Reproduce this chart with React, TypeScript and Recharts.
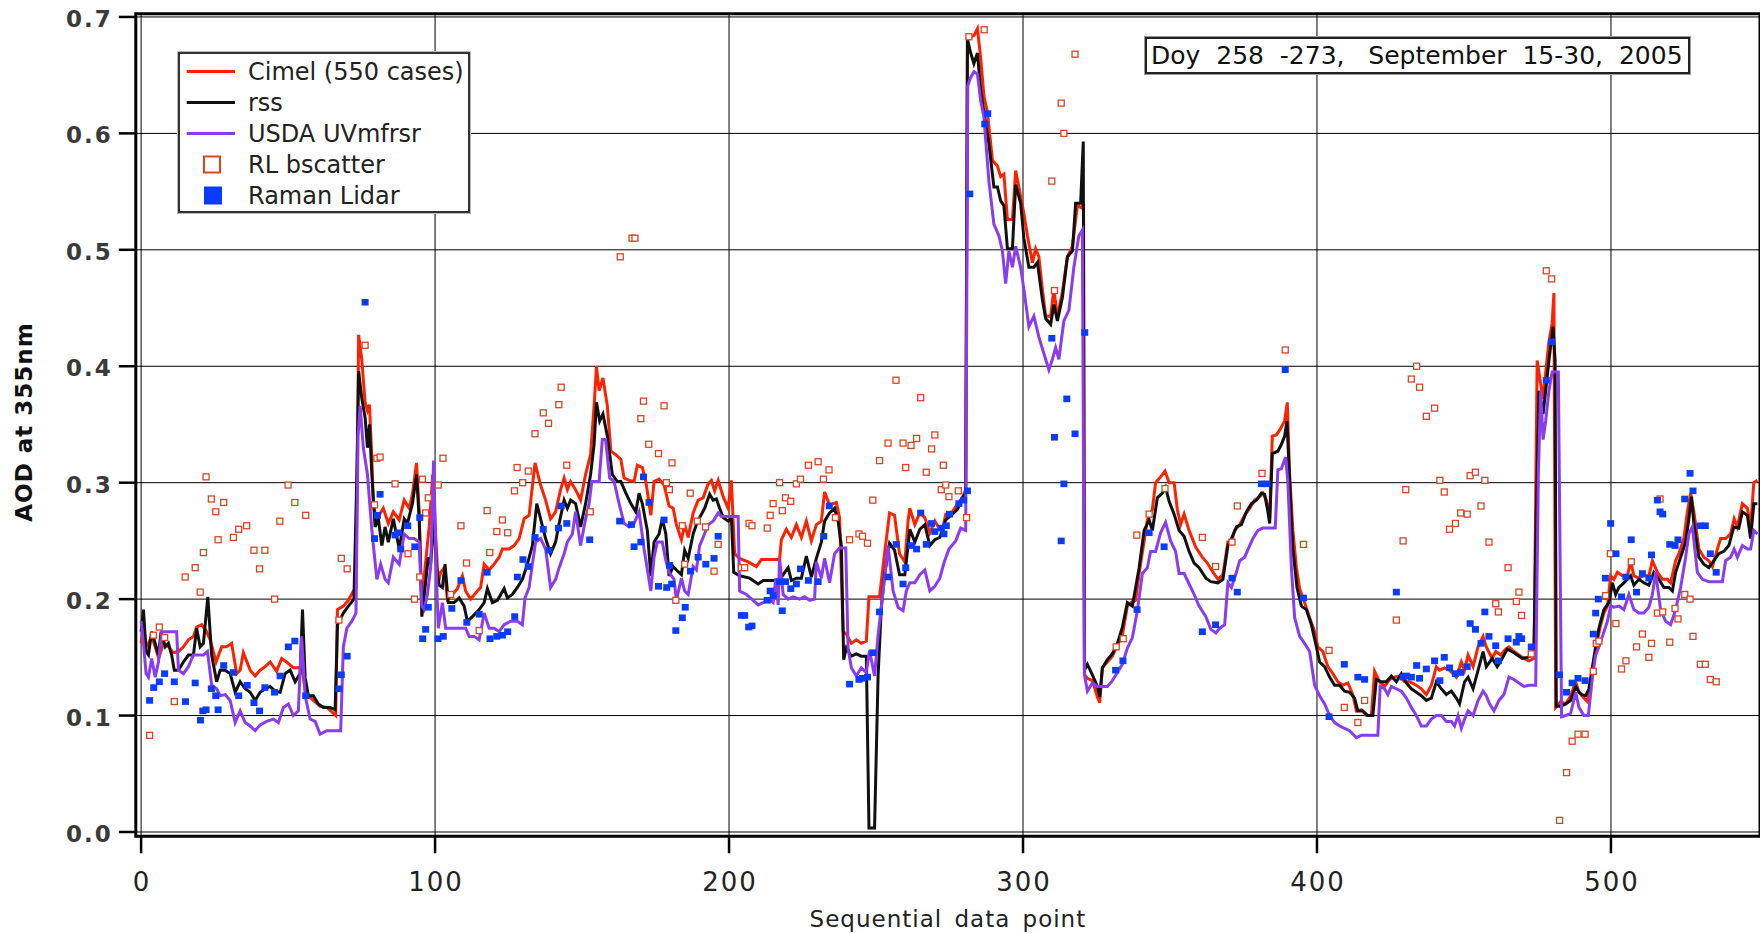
import React from "react";
import {
  CartesianGrid,
  ComposedChart,
  Legend,
  Line,
  ReferenceArea,
  Scatter,
  XAxis,
  YAxis,
} from "recharts";

const FONT = "'DejaVu Sans', Verdana, sans-serif";

const xTicks = [0, 100, 200, 300, 400, 500];
const yTicks = [0, 0.1, 0.2, 0.3, 0.4, 0.5, 0.6, 0.7];

// Cimel (550 cases), [sequential point, AOD]
const cimel: [number, number][] = [
  [0,0.162],[0.8,0.178],[1.7,0.159],[2.5,0.162],[3.6,0.168],[4.8,0.159],[6,0.149],[7.6,0.162],[9.3,0.159],[11,0.154],[12.7,0.155],[14.4,0.159],[16.1,0.165],[17.8,0.168],[18.9,0.176],[20.6,0.178],[22.1,0.173],[23.5,0.165],[25.5,0.146],[27.4,0.159],[29.1,0.159],[30.8,0.162],[32.5,0.136],[33.7,0.139],[34.8,0.154],[37.1,0.139],[38.8,0.134],[40.5,0.139],[42.2,0.142],[43.9,0.146],[46.1,0.138],[47.8,0.149],[49.5,0.146],[51.8,0.141],[53.5,0.141],[54.6,0.142],[55.8,0.123],[56.9,0.117],[58.6,0.113],[60.9,0.108],[63.2,0.107],[65.4,0.102],[66.2,0.1],[66.8,0.191],[68.8,0.194],[70.5,0.199],[72.2,0.207],[73.1,0.21],[74,0.427],[75.1,0.405],[76.2,0.369],[77,0.362],[77.7,0.367],[78.5,0.32],[79,0.28],[80.2,0.269],[82.4,0.278],[84.1,0.265],[85.8,0.275],
  [87.8,0.268],[89.5,0.285],[91.2,0.278],[92.3,0.29],[93.7,0.317],[94.6,0.275],[95.5,0.194],[96.6,0.227],[98,0.262],[99.2,0.307],[100.2,0.255],[101.1,0.214],[101.9,0.223],[103.1,0.227],[104.2,0.2],[105.9,0.204],[107.6,0.209],[109.3,0.22],[110.4,0.207],[112.1,0.2],[114.4,0.207],[115.5,0.21],[116.7,0.23],[118.4,0.225],[120.1,0.23],[121.8,0.236],[122.9,0.243],[125.2,0.243],[126.9,0.246],[128.6,0.252],[130.3,0.269],[132,0.272],[134,0.317],[135.9,0.298],[137.6,0.285],[139.3,0.269],[141,0.275],[142.7,0.294],[143.9,0.304],[145,0.294],[146.1,0.301],[147.8,0.294],[149.5,0.285],[151.2,0.307],[152.9,0.324],[154.1,0.366],[154.9,0.4],[155.8,0.379],[157.1,0.39],[158.6,0.366],[159.8,0.327],[161.5,0.324],[163.2,0.32],[164.3,0.304],[166,0.302],[167.7,0.301],[168.8,0.315],[170.5,0.313],[171.7,0.301],[173.4,0.272],[174.5,0.301],[176.2,0.303],[177.9,0.298],[179.6,0.28],
  [181,0.278],[182.1,0.264],[183.8,0.251],[184.9,0.264],[186.1,0.253],[187.8,0.274],[189.5,0.285],[191.2,0.287],[192.9,0.299],[194,0.302],[195.1,0.293],[196.3,0.302],[198,0.288],[199.7,0.278],[200.8,0.302],[201.9,0.239],[203.6,0.235],[206.5,0.232],[209.3,0.228],[211,0.234],[213.8,0.234],[217.2,0.234],[217.8,0.251],[219.5,0.26],[221.2,0.253],[222.9,0.264],[224.6,0.253],[226.3,0.267],[228,0.25],[229.7,0.264],[231.4,0.267],[232.5,0.292],[234.2,0.281],[236.5,0.283],[237.6,0.27],[238.8,0.172],[239.9,0.17],[241.6,0.162],[243.3,0.165],[245,0.162],[246.7,0.164],[247.6,0.202],[249.5,0.202],[251.2,0.202],[252.9,0.239],[254.6,0.274],[256.3,0.272],[258,0.239],[259.8,0.232],[260.9,0.267],[261.5,0.278],[263.2,0.264],[264.9,0.274],[266.6,0.27],[268.3,0.257],[270,0.267],[271.7,0.26],
  [272.6,0.259],[273.7,0.273],[276,0.275],[277.7,0.282],[279.4,0.287],[280.5,0.294],[281.1,0.683],[282.2,0.683],[283.3,0.684],[284.5,0.69],[285.6,0.665],[286.7,0.632],[287.9,0.618],[289.6,0.577],[291.3,0.572],[292.4,0.563],[293.5,0.565],[294.7,0.526],[296.4,0.526],[297.5,0.568],[298.6,0.554],[300.3,0.531],[301.5,0.512],[303.2,0.489],[304.3,0.501],[305.4,0.494],[306.6,0.466],[307.7,0.443],[309.4,0.443],[310.5,0.466],[311.7,0.443],[313.4,0.464],[315.1,0.494],[316.8,0.503],[318.5,0.538],[320,0.536],[320.6,0.54],[320.9,0.135],[321.9,0.132],[323.6,0.13],[325.3,0.116],[326.1,0.111],[327,0.141],[328.7,0.146],[330.4,0.151],[332.1,0.16],[333.8,0.169],[335.5,0.194],[336.6,0.197],[338.3,0.199],[339.5,0.222],[341.2,0.25],[342.3,0.268],[344,0.277],[345.1,0.3],[346.8,0.305],[348.3,0.31],[349.7,0.3],[351.4,0.3],[352.5,0.277],[353.6,0.264],[354.8,0.273],[356.5,0.259],[358.7,0.245],[361,0.236],[362.7,0.231],[364.4,0.224],
  [366.3,0.217],[368,0.221],[369.7,0.249],[370.9,0.249],[372,0.259],[373.7,0.264],[375.4,0.272],[377.1,0.278],[378.8,0.285],[380.5,0.288],[381.6,0.291],[382.8,0.285],[383.9,0.269],[384.8,0.34],[386.2,0.341],[387.5,0.346],[389,0.353],[389.9,0.369],[390.7,0.307],[391.8,0.259],[393,0.227],[394.1,0.209],[395.8,0.197],[397.5,0.184],[399.2,0.172],[400.3,0.159],[402,0.155],[403.7,0.142],[405.4,0.136],[407.1,0.129],[408.8,0.126],[410.5,0.128],[412.2,0.118],[413.4,0.104],[415.1,0.105],[416.8,0.1],[418.5,0.1],[419.6,0.138],[421.3,0.129],[423,0.125],[424.7,0.131],[426.4,0.133],[428.1,0.134],[429.8,0.129],[431.5,0.129],[433.8,0.126],[435.5,0.123],[437.2,0.118],[438.9,0.126],[440.6,0.142],[441.7,0.139],[443.4,0.141],[445.1,0.139],[447.4,0.133],[449.1,0.146],[450.2,0.139],[451.4,0.152],[453.1,0.142],[454.8,0.159],[456.5,0.168],[457.6,0.159],
  [459.6,0.149],[460.8,0.155],[462.5,0.152],[464.2,0.157],[465.3,0.159],[467,0.155],[468.7,0.152],[470.4,0.149],[472.1,0.147],[473.8,0.149],[474.9,0.405],[476.1,0.385],[476.9,0.372],[477.8,0.395],[478.9,0.421],[480,0.437],[480.6,0.463],[481.2,0.107],[482.9,0.112],[484.6,0.11],[486.3,0.117],[488,0.129],[489.1,0.12],[490.8,0.115],[492,0.112],[493.1,0.129],[494.2,0.146],[495.4,0.165],[496.5,0.178],[497.6,0.188],[498.8,0.194],[499.9,0.22],[501,0.217],[502.2,0.223],[503.9,0.22],[505.6,0.22],[506.7,0.233],[507.8,0.22],[509.5,0.218],[511.2,0.22],[512.9,0.22],[514.1,0.233],[515.8,0.223],[517.5,0.217],[519.2,0.217],[520.3,0.214],[522,0.233],[523.1,0.239],[524.8,0.252],[526,0.275],[527.1,0.291],[528.2,0.275],[529.9,0.243],[531.6,0.236],[533.3,0.233],[534.5,0.228],[536.2,0.243],[537.3,0.252],[539,0.252],[540.7,0.256],[541.9,0.269],[543,0.262],[544.7,0.282],[546.4,0.278],[547.5,0.262],[548.6,0.3],[549.8,0.302],
];

// rss
const rss: [number, number][] = [
  [0,0.172],[0.8,0.191],[1.7,0.155],[2.5,0.152],[3.6,0.172],[4.8,0.162],[5.9,0.152],[6.8,0.172],[8.2,0.159],[9.3,0.162],[10.4,0.152],[11.3,0.139],[12.7,0.139],[14.4,0.146],[16.1,0.152],[17.8,0.152],[18.9,0.175],[20.1,0.159],[21.2,0.162],[22.7,0.202],[24,0.152],[25.7,0.129],[26.9,0.139],[28.6,0.139],[30.3,0.136],[32,0.12],[33.7,0.129],[35.4,0.123],[37.1,0.12],[38.8,0.113],[40.5,0.12],[42.2,0.123],[43.9,0.125],[45.6,0.121],[47.3,0.12],[49,0.136],[50.7,0.139],[52.4,0.129],[54.1,0.136],[54.9,0.191],[55.8,0.133],[56.9,0.117],[58.6,0.117],[60.3,0.11],[62,0.107],[64.3,0.107],[66,0.105],[66.8,0.178],[68.8,0.188],[70.5,0.194],[72.4,0.2],[73.4,0.307],[74,0.396],[75.1,0.372],[76.2,0.356],[77,0.33],[77.7,0.35],[78.5,0.307],[79.6,0.262],[80.7,0.269],[81.9,0.246],[83,0.262],[84.1,0.249],[85.8,0.269],
  [87.8,0.243],[89.5,0.269],[90.6,0.265],[92.3,0.282],[93.7,0.307],[94.6,0.269],[95.5,0.185],[96.6,0.21],[97.7,0.236],[98.5,0.23],[99.7,0.269],[100.5,0.227],[101.4,0.212],[102.5,0.21],[103.4,0.23],[104.5,0.197],[106.5,0.197],[108.2,0.201],[109.9,0.194],[111,0.181],[112.7,0.185],[115,0.191],[116.7,0.197],[117.8,0.209],[119.5,0.197],[121.2,0.199],[123.5,0.209],[124.6,0.201],[126.3,0.204],[128,0.21],[129.7,0.217],[131.4,0.23],[133.1,0.246],[134.6,0.282],[135.9,0.269],[137.6,0.252],[139.3,0.239],[141,0.249],[142.2,0.265],[143.9,0.285],[145,0.278],[146.1,0.285],[147.8,0.282],[149.5,0.262],[151.2,0.282],[152.9,0.307],[154.1,0.333],[154.9,0.369],[156,0.353],[157.1,0.359],[158.6,0.34],[160.3,0.307],[162,0.301],[163.2,0.301],[164.9,0.291],[166.6,0.282],[168.3,0.275],[169.4,0.291],[170.5,0.282],[172.2,0.259],[173.4,0.22],[174.5,0.249],[176.2,0.256],[177.3,0.269],[178.5,0.256],[179.6,0.22],
  [181,0.228],[182.1,0.225],[183.8,0.221],[184.9,0.242],[186.1,0.235],[187.8,0.256],[188.9,0.264],[190,0.27],[191.7,0.278],[193.4,0.29],[194.6,0.285],[195.7,0.286],[196.8,0.278],[198,0.27],[199.7,0.267],[200.8,0.27],[201.6,0.223],[203.6,0.22],[207,0.218],[209.9,0.213],[211.6,0.216],[213.8,0.216],[217.2,0.216],[218.4,0.221],[220.1,0.227],[221.2,0.216],[222.9,0.218],[224.6,0.218],[226.3,0.237],[228,0.219],[229.7,0.235],[231.4,0.249],[232.5,0.267],[234.2,0.274],[235.9,0.278],[237.1,0.267],[238.2,0.246],[239,0.148],[239.9,0.158],[241.6,0.151],[243.3,0.153],[245,0.151],[246.7,0.151],[247.6,0.0035],[249.5,0.0035],[250.7,0.134],[251.8,0.193],[252.9,0.221],[254.6,0.248],[256.3,0.242],[258,0.221],[259.8,0.221],[261.5,0.26],[263.2,0.249],[264.9,0.26],[266.6,0.264],[268.3,0.246],[270,0.251],[271.7,0.253],
  [273.7,0.268],[276,0.273],[277.7,0.277],[279.4,0.287],[280.5,0.291],[281.1,0.681],[282.2,0.669],[283.3,0.66],[284.5,0.669],[285.6,0.637],[286.7,0.618],[288.4,0.591],[290.1,0.554],[291.3,0.554],[292.4,0.542],[293.5,0.538],[294.7,0.501],[296.4,0.501],[297.5,0.556],[299.2,0.54],[300.3,0.51],[302,0.485],[303.7,0.485],[304.9,0.489],[306.6,0.457],[307.7,0.441],[309.4,0.436],[310.5,0.453],[311.7,0.439],[313.4,0.459],[315.1,0.494],[316.8,0.499],[317.9,0.54],[319.6,0.54],[320.5,0.593],[320.9,0.139],[321.9,0.144],[323.6,0.135],[325.3,0.125],[326.1,0.116],[327,0.141],[328.7,0.148],[330.4,0.153],[332.1,0.162],[333.8,0.176],[335.5,0.197],[337.2,0.194],[339.5,0.227],[341.2,0.259],[342.9,0.268],[344,0.259],[345.7,0.287],[347.4,0.291],[348.5,0.296],[349.7,0.284],[351.4,0.273],[353.1,0.259],[354.8,0.254],[356.5,0.241],[358.2,0.231],[359.9,0.227],[362.2,0.218],[363.9,0.215],
  [366.3,0.214],[368,0.217],[369.7,0.246],[370.9,0.252],[372.6,0.262],[374.3,0.264],[376,0.275],[377.7,0.282],[379.4,0.285],[381.1,0.291],[382.2,0.29],[383.3,0.275],[383.9,0.265],[384.8,0.325],[386.7,0.327],[387.9,0.333],[389,0.34],[389.8,0.353],[390.7,0.301],[391.8,0.243],[393.2,0.21],[394.7,0.194],[396.4,0.191],[398.1,0.178],[399.8,0.159],[400.9,0.146],[402.6,0.142],[404.3,0.133],[406,0.126],[407.7,0.126],[409.4,0.121],[411.1,0.12],[412.8,0.115],[413.9,0.104],[415.6,0.104],[417.3,0.1],[419,0.1],[420.2,0.131],[421.9,0.129],[423.6,0.129],[425.3,0.134],[427,0.129],[428.7,0.136],[430.4,0.128],[432.1,0.123],[433.8,0.12],[435.5,0.117],[437.2,0.113],[438.9,0.115],[440.6,0.129],[442.3,0.123],[444,0.118],[445.7,0.121],[447.4,0.115],[448.5,0.11],[450.2,0.129],[451.4,0.133],[453.1,0.123],[454.8,0.139],[456.5,0.155],[457.6,0.142],
  [459.6,0.149],[461.3,0.142],[463,0.149],[464.7,0.157],[466.4,0.155],[468.1,0.152],[469.8,0.149],[471.5,0.15],[473.8,0.152],[474.6,0.275],[475.5,0.379],[476.9,0.359],[477.8,0.379],[478.9,0.405],[480.3,0.434],[481,0.405],[481.4,0.108],[482.9,0.108],[484.6,0.11],[486.3,0.113],[488,0.125],[489.1,0.12],[490.2,0.118],[491.4,0.117],[492.5,0.123],[493.7,0.142],[494.8,0.159],[495.9,0.175],[497.6,0.191],[499.3,0.197],[500.5,0.214],[501.6,0.204],[502.7,0.21],[504.4,0.214],[505.6,0.217],[506.7,0.22],[507.8,0.212],[509.5,0.217],[511.2,0.214],[512.9,0.212],[514.6,0.223],[516.3,0.217],[518,0.21],[519.7,0.21],[520.9,0.207],[522,0.223],[523.7,0.236],[525.4,0.249],[526.5,0.269],[527.4,0.288],[528.2,0.265],[529.9,0.236],[531.6,0.23],[533.3,0.227],[535,0.233],[536.7,0.239],[538.4,0.241],[540.1,0.246],[541.8,0.262],[543.5,0.261],[544.7,0.275],[546.4,0.272],[547.5,0.252],[548.6,0.282],[549.8,0.282],
];

// USDA UVmfrsr
const usda: [number, number][] = [
  [0,0.181],[0.8,0.162],[1.7,0.136],[2.5,0.133],[3.6,0.149],[4.8,0.133],[5.9,0.146],[7,0.172],[12.1,0.172],[12.7,0.139],[14.4,0.136],[16.1,0.142],[17.8,0.152],[19.5,0.152],[21.2,0.152],[22.6,0.155],[24,0.126],[25.7,0.123],[26.9,0.117],[28.6,0.118],[30.3,0.113],[32,0.094],[33.7,0.104],[35.4,0.094],[37.1,0.091],[38.8,0.087],[40.5,0.092],[42.7,0.095],[45,0.097],[46.7,0.094],[48.4,0.107],[50.1,0.11],[51.8,0.1],[53.5,0.104],[54.6,0.168],[55.8,0.117],[57.5,0.097],[59.2,0.095],[60.9,0.084],[63.2,0.087],[65.4,0.087],[67.9,0.087],[68.8,0.159],[70,0.175],[71.7,0.181],[73.1,0.188],[73.8,0.34],[74.5,0.366],[75.6,0.33],[77,0.307],[78.5,0.259],[80.2,0.217],[81.5,0.23],[83,0.217],[84.1,0.214],[85.8,0.236],
  [87.8,0.23],[89.5,0.256],[91.2,0.252],[92.9,0.252],[94.6,0.249],[95.5,0.194],[96.3,0.191],[97.4,0.204],[98.5,0.227],[99.5,0.319],[100.5,0.217],[101.1,0.175],[102.5,0.197],[103.6,0.175],[104.8,0.175],[106.5,0.175],[108.7,0.175],[110.4,0.175],[111.6,0.168],[113.3,0.168],[115,0.165],[116.7,0.188],[118.4,0.175],[120.1,0.175],[121.8,0.172],[123.5,0.178],[125.7,0.181],[128,0.181],[129.7,0.178],[130.6,0.201],[132,0.21],[133.1,0.23],[134.2,0.249],[135.9,0.252],[137.6,0.243],[139.3,0.21],[141,0.217],[142.2,0.227],[143.9,0.239],[145,0.249],[146.7,0.256],[147.8,0.275],[149.5,0.246],[151.2,0.269],[152.4,0.282],[153.3,0.301],[155.8,0.301],[156.9,0.337],[158,0.337],[159.4,0.304],[160.9,0.301],[162.6,0.282],[164.3,0.265],[166,0.262],[167.7,0.265],[169.4,0.275],[171.1,0.243],[173.4,0.207],[174.5,0.236],[175.6,0.249],[177.3,0.249],[178.5,0.233],[179.6,0.223],[181.3,0.217],
  [182.1,0.199],[183.8,0.218],[184.9,0.207],[186.1,0.204],[187.8,0.228],[188.9,0.225],[190,0.246],[191.2,0.253],[192.9,0.264],[194.6,0.267],[196.3,0.274],[197.4,0.271],[198.5,0.271],[200.8,0.271],[203.1,0.271],[203.6,0.207],[205.9,0.204],[208.2,0.199],[209.9,0.195],[211.6,0.197],[213.3,0.2],[215,0.197],[215.9,0.218],[216.7,0.195],[217.2,0.235],[218.4,0.204],[220.1,0.2],[221.8,0.202],[224,0.2],[225.7,0.202],[227.4,0.199],[229.1,0.2],[229.7,0.232],[231.4,0.218],[232.5,0.235],[234.2,0.214],[235.9,0.239],[237.6,0.244],[239.7,0.244],[240.5,0.158],[241.6,0.141],[243.3,0.134],[245,0.141],[246.7,0.137],[247.8,0.156],[249.5,0.134],[250.7,0.169],[251.8,0.193],[252.9,0.218],[254.1,0.246],[255.8,0.207],[257.5,0.193],[259.2,0.19],[260.3,0.207],[261.5,0.214],[263.2,0.214],[264.9,0.221],[266.6,0.225],[268.3,0.207],[270,0.211],[271.7,0.218],
  [273.1,0.231],[274.8,0.243],[277.1,0.25],[278.8,0.261],[280.5,0.259],[281.2,0.641],[282.2,0.648],[283.3,0.653],[284.5,0.651],[285.6,0.628],[286.7,0.614],[288.4,0.559],[290.1,0.522],[291.8,0.512],[293,0.499],[294.1,0.471],[295.2,0.499],[296.4,0.485],[297.5,0.503],[299.2,0.485],[300.3,0.466],[302,0.434],[303.7,0.443],[305.4,0.425],[307.1,0.411],[308.8,0.397],[310,0.406],[311.1,0.416],[312.2,0.406],[313.9,0.439],[315.6,0.448],[317.3,0.485],[319,0.512],[320.2,0.517],[320.9,0.135],[321.9,0.121],[323.6,0.128],[325.3,0.125],[327,0.125],[328.7,0.125],[330.4,0.13],[332.1,0.137],[333.8,0.144],[335.5,0.158],[337.2,0.167],[338.9,0.19],[340.6,0.222],[342.3,0.227],[343.4,0.241],[345.1,0.241],[346.8,0.257],[348.5,0.266],[350.2,0.25],[351.9,0.241],[353.1,0.222],[354.8,0.222],[356.5,0.213],[358.2,0.204],[359.9,0.194],[362.2,0.185],[363.9,0.174],[365.6,0.171],
  [366.9,0.175],[368.6,0.178],[369.7,0.214],[370.9,0.21],[372.6,0.223],[373.7,0.233],[375.4,0.236],[377.1,0.246],[378.2,0.252],[379.9,0.259],[381.6,0.261],[383.3,0.261],[385.8,0.261],[386.7,0.311],[387.9,0.312],[389.3,0.322],[390.1,0.301],[391.3,0.227],[392.4,0.184],[394.1,0.168],[395.8,0.162],[397.5,0.155],[399.2,0.126],[400.9,0.117],[402.6,0.11],[404.3,0.1],[406,0.094],[407.7,0.091],[409.4,0.089],[411.1,0.087],[413.4,0.081],[415.1,0.083],[417.3,0.083],[420.7,0.083],[421.5,0.125],[423,0.123],[424.1,0.118],[425.3,0.125],[427,0.123],[428.7,0.121],[430.4,0.115],[432.1,0.107],[433.8,0.1],[435.5,0.091],[437.2,0.091],[438.9,0.097],[440.6,0.1],[442.3,0.1],[444,0.095],[445.7,0.095],[446.8,0.091],[448,0.1],[449.1,0.089],[450.2,0.097],[451.4,0.104],[453.1,0.1],[454.8,0.113],[456.5,0.121],[457.6,0.117],[458.7,0.11],
  [460.2,0.104],[461.9,0.113],[463.6,0.118],[465.3,0.133],[467,0.131],[468.7,0.128],[470.4,0.125],[472.1,0.126],[474.4,0.126],[475.3,0.307],[476.1,0.379],[476.9,0.337],[477.8,0.353],[478.9,0.379],[480,0.395],[482.1,0.395],[483.2,0.099],[484.6,0.1],[486.3,0.102],[488,0.12],[489.1,0.107],[490.8,0.1],[492.3,0.1],[493.7,0.133],[494.8,0.152],[495.9,0.159],[497.1,0.168],[498.8,0.181],[499.9,0.194],[501,0.193],[502.7,0.194],[504.4,0.191],[506.1,0.204],[507.8,0.191],[509.5,0.188],[511.2,0.188],[512.9,0.193],[514.1,0.204],[515.2,0.223],[516.9,0.191],[518.6,0.181],[520.3,0.178],[522,0.191],[523.7,0.21],[525.4,0.236],[526.5,0.256],[527.7,0.262],[529.4,0.223],[531.1,0.217],[533.3,0.215],[536.2,0.215],[537.9,0.215],[539,0.233],[540.7,0.236],[541.9,0.243],[543,0.236],[544.7,0.246],[546.4,0.243],[547.5,0.243],[548.6,0.259],[549.8,0.256],
];

// RL bscatter
const rlBscatter: [number, number][] = [
  [2.9,0.083],[4.2,0.169],[6.2,0.176],[8,0.167],[11.3,0.112],[15,0.219],[18.4,0.227],[20.1,0.206],[21.2,0.24],[22.1,0.305],[23.9,0.286],[25.4,0.275],[26.2,0.251],[28.1,0.283],[31.4,0.253],[33.2,0.26],[35.9,0.263],[38.4,0.242],[40.3,0.226],[42.1,0.242],[45.4,0.2],[47.2,0.267],[50,0.298],[52.3,0.283],[56,0.272],[67.3,0.182],[68.1,0.235],[70.1,0.226],[76.2,0.418],[79.4,0.281],[80.2,0.321],[81.3,0.322],[86.4,0.299],[90.8,0.239],[93,0.2],[94.8,0.219],[95.7,0.303],[96.8,0.274],[97.7,0.287],[101.1,0.298],[102.7,0.321],[105.3,0.204],[108.8,0.263],[110.7,0.231],[115,0.173],[117.7,0.276],[118.6,0.24],[121,0.258],[122.9,0.268],[124.7,0.257],[127,0.293],[127.9,0.313],[129.8,0.3],[131.7,0.31],[134,0.342],[136.8,0.36],[138.6,0.351],[142.1,0.367],[142.9,0.382],[144.8,0.315],[152.8,0.275],[163,0.494],[167,0.51],[168,0.51],[170,0.355],[170.9,0.37],[172.7,0.333],[176,0.325],[177.9,0.366],[178.7,0.3],[179.7,0.294],[180.6,0.317],[181.9,0.199],[184.1,0.263],[184.9,0.23],[186.8,0.291],[189.2,0.267],[192,0.262],[194.9,0.224],[196.3,0.247],[204.2,0.227],[205.3,0.227],[206.8,0.265],[207.8,0.263],[213,0.261],[214,0.272],[215,0.282],[217.2,0.3],[218.1,0.276],[219.2,0.287],[221,0.284],[222.9,0.299],[224.3,0.303],[227,0.315],[230.3,0.318],[232.1,0.303],[234,0.311],[236.2,0.27],[241,0.251],[244.2,0.256],[245.4,0.254],[247.1,0.248],[248.9,0.285],[251.2,0.319],[254.1,0.334],[256.8,0.388],[259.2,0.334],[260.1,0.313],[261.9,0.332],[263.8,0.338],[265.2,0.373],[267.1,0.309],[268.9,0.329],[270,0.341],[272.2,0.294],[272.9,0.315],[273.7,0.298],[274.8,0.288],[278,0.293],[280.8,0.27],[281.6,0.683],[286.8,0.689],[309.8,0.559],[310.7,0.465],[313,0.626],[313.9,0.6],[317.7,0.668],[331.7,0.159],[334.1,0.166],[338.7,0.255],[342.9,0.273],[348.3,0.295],[361,0.253],[365.5,0.228],[371.1,0.249],[372.9,0.28],[381.3,0.308],[389.2,0.414],[395.4,0.247],[404.1,0.156],[409.3,0.107],[413.9,0.094],[416.2,0.113],[427,0.182],[429.3,0.25],[430.2,0.294],[432.1,0.389],[433.9,0.4],[434.9,0.382],[437.2,0.357],[440,0.364],[441.8,0.302],[443.3,0.292],[445.1,0.26],[447.1,0.265],[448.9,0.274],[451.1,0.273],[452.1,0.306],[453.9,0.309],[455.8,0.28],[457.1,0.302],[458.5,0.249],[460.8,0.196],[461.7,0.189],[465,0.227],[467.8,0.198],[468.7,0.206],[469.6,0.186],[472.9,0.153],[478,0.482],[479.8,0.475],[482.5,0.01],[484.9,0.051],[486.8,0.078],[488.8,0.084],[491.2,0.084],[494,0.138],[495,0.162],[495.9,0.164],[498.2,0.203],[499.8,0.239],[501.7,0.179],[503.6,0.14],[505.1,0.147],[506.9,0.232],[508.7,0.159],[510.7,0.17],[512.9,0.15],[513.8,0.162],[515.8,0.188],[516.7,0.286],[517.6,0.189],[520,0.163],[521.8,0.192],[522.8,0.183],[525.1,0.204],[526.9,0.2],[527.9,0.168],[530.4,0.144],[532.1,0.144],[533.8,0.131],[535.8,0.129],
];

// Raman Lidar
const ramanLidar: [number, number][] = [
  [2.9,0.113],[4.3,0.124],[6.2,0.129],[8,0.136],[11.3,0.129],[15.1,0.112],[18.4,0.128],[20.2,0.096],[21,0.104],[22.1,0.105],[23.9,0.123],[25.4,0.117],[26.2,0.105],[28.1,0.143],[31.4,0.137],[33.2,0.117],[36.1,0.126],[38.4,0.111],[40.3,0.104],[42.1,0.124],[45.4,0.12],[47.3,0.134],[50.1,0.159],[52.3,0.164],[56,0.117],[67.3,0.123],[68.1,0.135],[70.1,0.151],[76.2,0.455],[79.4,0.252],[80.4,0.272],[81.3,0.29],[86.4,0.255],[87.5,0.257],[88.3,0.243],[90.7,0.263],[93.1,0.245],[94.8,0.27],[95.8,0.166],[96.8,0.174],[97.7,0.193],[101,0.166],[102.8,0.168],[105.7,0.192],[108.8,0.216],[110.8,0.18],[115,0.187],[117.7,0.223],[118.7,0.166],[121,0.168],[122.9,0.169],[124.7,0.172],[127.1,0.185],[128,0.219],[129.9,0.234],[131.7,0.228],[134,0.253],[136.8,0.26],[138.8,0.242],[142,0.261],[142.9,0.28],[144.8,0.265],[152.6,0.251],[162.8,0.267],[166.8,0.264],[167.7,0.245],[170,0.249],[170.9,0.305],[172.8,0.283],[176,0.211],[177.9,0.268],[178.8,0.21],[179.8,0.229],[180.5,0.213],[181.9,0.173],[184.1,0.184],[185.1,0.193],[186.9,0.224],[189.5,0.236],[192.1,0.23],[194.9,0.235],[196.3,0.254],[204.2,0.186],[205.3,0.186],[206.7,0.176],[207.8,0.177],[213,0.199],[214,0.207],[215,0.203],[217.2,0.215],[218.1,0.19],[219.2,0.215],[221,0.209],[222.9,0.213],[224.3,0.226],[227,0.216],[230.3,0.215],[232.2,0.254],[234.1,0.28],[241,0.127],[244.2,0.131],[245.4,0.132],[247.1,0.133],[248.9,0.154],[251.2,0.189],[254.1,0.219],[256.9,0.247],[259.2,0.213],[260.1,0.227],[262,0.246],[263.8,0.243],[265.2,0.274],[267.1,0.247],[268.9,0.265],[270,0.258],[272.2,0.261],[273.1,0.256],[273.9,0.263],[275,0.273],[278.2,0.282],[279.8,0.285],[281.1,0.293],[281.9,0.548],[287,0.608],[288,0.617],[309.8,0.424],[310.7,0.339],[313,0.25],[313.9,0.299],[314.9,0.372],[317.7,0.342],[321,0.429],[331.5,0.139],[334,0.147],[338.8,0.191],[342.9,0.257],[348,0.245],[361,0.172],[365.5,0.178],[371.1,0.218],[372.9,0.206],[381.1,0.299],[383,0.299],[389.2,0.397],[395.4,0.201],[404.1,0.099],[409.3,0.144],[413.9,0.133],[416.2,0.131],[427,0.206],[429.3,0.133],[430.4,0.134],[432.1,0.133],[433.9,0.143],[434.9,0.132],[437.2,0.14],[440,0.147],[441.8,0.13],[443.3,0.15],[445.1,0.141],[447.1,0.136],[448.9,0.137],[451.1,0.142],[452.1,0.179],[453.9,0.174],[455.8,0.162],[457.1,0.189],[458.5,0.168],[460.8,0.16],[461.7,0.147],[465,0.166],[467.8,0.163],[468.7,0.168],[469.6,0.166],[472.9,0.159],[478,0.388],[479.8,0.421],[482.5,0.135],[484.9,0.12],[486.8,0.128],[488.8,0.132],[491.2,0.13],[494,0.17],[494.8,0.188],[495.7,0.2],[498.1,0.218],[499.9,0.265],[501.7,0.239],[503.6,0.202],[505.1,0.219],[506.9,0.251],[508.7,0.206],[510.7,0.222],[512.9,0.218],[513.8,0.238],[515.8,0.285],[516.7,0.275],[517.6,0.273],[520,0.247],[521.8,0.246],[522.8,0.251],[525.1,0.286],[526.9,0.308],[527.9,0.293],[530.4,0.263],[532.1,0.263],[533.8,0.239],[535.8,0.223],
];

const toPoints = (rows: [number, number][]) => rows.map(([x, y]) => ({ x, y }));

const RED = "#ff2200";
const BLACK = "#111111";
const PURPLE = "#8a3cf0";
const BLUE = "#0a3cff";
const SQUARE_RED = "#dd4422";

const legendItems = [
  { label: "Cimel (550 cases)", kind: "line", color: RED },
  { label: "rss", kind: "line", color: BLACK },
  { label: "USDA UVmfrsr", kind: "line", color: PURPLE },
  { label: "RL bscatter", kind: "open", color: SQUARE_RED },
  { label: "Raman Lidar", kind: "filled", color: BLUE },
];

const LegendBox = () => (
  <div
    style={{
      width: 292,
      height: 161,
      boxSizing: "border-box",
      border: "2px solid #333",
      boxShadow: "0 0 0 1px #bbb",
      background: "#fff",
      paddingTop: 2,
      fontFamily: FONT,
      fontSize: 24,
      color: "#222",
    }}
  >
    {legendItems.map((item) => (
      <div key={item.label} style={{ height: 31, display: "flex", alignItems: "center" }}>
        <svg width={68} height={31} style={{ flex: "none" }}>
          {item.kind === "line" && (
            <line x1={6.7} x2={55} y1={15.5} y2={15.5} stroke={item.color} strokeWidth={3} />
          )}
          {item.kind === "open" && (
            <rect x={24} y={7.5} width={16} height={16} fill="#fff" stroke={item.color} strokeWidth={2} />
          )}
          {item.kind === "filled" && (
            <rect x={24} y={6.5} width={18} height={18} fill={item.color} />
          )}
        </svg>
        <span style={{ whiteSpace: "pre" }}>{item.label}</span>
      </div>
    ))}
  </div>
);

const YTick = (props: any) => {
  const { x, y, payload } = props;
  return (
    <text x={x - 4} y={y + 10} textAnchor="end" fontFamily={FONT} fontSize={23} fontWeight="bold" letterSpacing={2} fill="#3a3a3a">
      {payload.value.toFixed(1)}
    </text>
  );
};

const XTick = (props: any) => {
  const { x, y, payload } = props;
  return (
    <text x={x + 1} y={y + 36} textAnchor="middle" fontFamily={FONT} fontSize={26} letterSpacing={2} fill="#222">
      {payload.value}
    </text>
  );
};

const XTitle = (props: any) => {
  const vb = props.viewBox;
  return (
    <text
      x={vb.x + vb.width / 2}
      y={vb.y + vb.height - 6}
      textAnchor="middle"
      fontFamily={FONT}
      fontSize={23}
      letterSpacing={1}
      wordSpacing={4}
      fill="#222"
    >
      Sequential data point
    </text>
  );
};

const YTitle = (props: any) => {
  const vb = props.viewBox;
  const cx = vb.x + 24;
  const cy = vb.y + vb.height / 2 - 3;
  return (
    <text
      x={cx}
      y={cy}
      transform={`rotate(-90, ${cx}, ${cy})`}
      textAnchor="middle"
      dominantBaseline="central"
      fontFamily={FONT}
      fontSize={23}
      fontWeight="bold"
      letterSpacing={1}
      fill="#111"
    >
      AOD at 355nm
    </text>
  );
};

const openSquare = (p: any) => (
  <rect x={p.cx - 3} y={p.cy - 3} width={6} height={6} fill="#fff" stroke={SQUARE_RED} strokeWidth={1.3} />
);

const filledSquare = (p: any) => (
  <rect x={p.cx - 3.5} y={p.cy - 3.3} width={7} height={6.6} fill={BLUE} />
);

export default function App() {
  return (
    <div style={{ position: "relative", width: 1760, height: 933, background: "#fff" }}>
      <style>{"body{margin:0;overflow:hidden;background:#fff}"}</style>
      <ComposedChart width={1760} height={933} margin={{ top: 13.8, right: 0, bottom: 0, left: 0 }}>
        <CartesianGrid stroke="#000" strokeWidth={1} />
        <XAxis
          dataKey="x"
          type="number"
          domain={[-1.8, 550.7]}
          allowDataOverflow
          ticks={xTicks}
          height={96.7}
          tickSize={17}
          tickMargin={2}
          axisLine={false}
          tickLine={{ stroke: "#000", strokeWidth: 2.5 }}
          tick={<XTick />}
          label={{ content: XTitle }}
        />
        <YAxis
          dataKey="y"
          type="number"
          domain={[-0.0037, 0.7027]}
          allowDataOverflow
          ticks={yTicks}
          width={135.8}
          tickSize={17}
          tickMargin={2}
          axisLine={false}
          tickLine={{ stroke: "#000", strokeWidth: 2.5 }}
          tick={<YTick />}
          label={{ content: YTitle }}
        />
        <Line data={toPoints(cimel)} dataKey="y" name="Cimel (550 cases)" type="linear" stroke={RED} strokeWidth={3} dot={false} activeDot={false} isAnimationActive={false} />
        <Line data={toPoints(rss)} dataKey="y" name="rss" type="linear" stroke={BLACK} strokeWidth={3} dot={false} activeDot={false} isAnimationActive={false} />
        <Line data={toPoints(usda)} dataKey="y" name="USDA UVmfrsr" type="linear" stroke={PURPLE} strokeWidth={3} dot={false} activeDot={false} isAnimationActive={false} />
        <Scatter data={toPoints(rlBscatter)} dataKey="y" name="RL bscatter" shape={openSquare} isAnimationActive={false} />
        <Scatter data={toPoints(ramanLidar)} dataKey="y" name="Raman Lidar" shape={filledSquare} isAnimationActive={false} />
        <ReferenceArea
          x1={-1.8}
          x2={550.7}
          y1={-0.0037}
          y2={0.7027}
          fill="none"
          fillOpacity={0}
          stroke="#000"
          strokeWidth={3}
          ifOverflow="visible"
        />
        <Legend
          layout="vertical"
          align="center"
          verticalAlign="middle"
          content={() => <LegendBox />}
          wrapperStyle={{ left: 178, top: 52, width: 292, height: 161 }}
        />
      </ComposedChart>
      <div
        style={{
          position: "absolute",
          left: 1145,
          top: 37,
          width: 545,
          height: 37,
          boxSizing: "border-box",
          border: "2px solid #222",
          boxShadow: "0 0 0 1px #999",
          background: "#fff",
          fontFamily: FONT,
          fontSize: 25,
          lineHeight: "33px",
          paddingLeft: 4,
          whiteSpace: "pre",
          color: "#111",
          overflow: "hidden",
        }}
      >
        {"Doy  258  -273,   September  15-30,  2005"}
      </div>
    </div>
  );
}
